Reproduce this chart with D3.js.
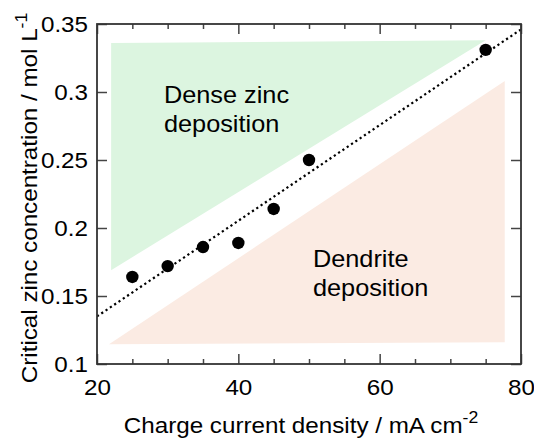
<!DOCTYPE html>
<html>
<head>
<meta charset="utf-8">
<script src="https://cdn.jsdelivr.net/npm/d3@7"></script>
<style>
  body { margin: 0; background: #fff; }
  text { font-family: "Liberation Sans", Arial, sans-serif; fill: #000; }
</style>
</head>
<body>
<div id="chart"></div>
<script>
// measured points
const currentDensity = [25, 30, 35, 40, 45, 50, 75]
const criticalConc = [0.164, 0.172, 0.186, 0.189, 0.214, 0.250, 0.331]

// dotted fit line end points
const fitX = [20, 80]
const fitY = [0.135, 0.346]

// shaded regions (x, y in data units)
const denseX = [22, 75, 22]
const denseY = [0.336, 0.338, 0.169]
const dendriteX = [21.7, 77.7, 77.7]
const dendriteY = [0.1145, 0.116, 0.308]

const xMajorTicks = [20, 40, 60, 80]
const xMinorTicks = [25, 30, 35, 45, 50, 55, 65, 70, 75]
const yTicks = [0.1, 0.15, 0.2, 0.25, 0.3, 0.35]

const margin = { top: 24, left: 97, right: 13, bottom: 75 }
const width = 534 - margin.left - margin.right
const height = 439 - margin.top - margin.bottom
const stretch = 1.1

const svg = d3
  .select('#chart')
  .append('svg')
  .attr('width', 534)
  .attr('height', 439)
  .append('g')
  .attr('transform', `translate(${margin.left},${margin.top})`)

const xScale = d3.scaleLinear().domain([20, 80]).range([0, width])
const yScale = d3.scaleLinear().domain([0.1, 0.35]).range([height, 0])

const toPoints = (xs, ys) => xs.map((x, i) => [xScale(x), yScale(ys[i])])

svg.append('polygon')
  .attr('points', toPoints(denseX, denseY).join(' '))
  .attr('fill', '#dcf5e0')

svg.append('polygon')
  .attr('points', toPoints(dendriteX, dendriteY).join(' '))
  .attr('fill', '#fbebe3')

svg.append('clipPath').attr('id', 'plot-clip')
  .append('rect').attr('width', width).attr('height', height)

svg.append('path')
  .datum(fitX.map((x, i) => [x, fitY[i]]))
  .attr('clip-path', 'url(#plot-clip)')
  .attr('d', d3.line().x(d => xScale(d[0])).y(d => yScale(d[1])))
  .attr('fill', 'none')
  .attr('stroke', '#000')
  .attr('stroke-width', 2.2)
  .attr('stroke-dasharray', '2.2 3')

svg.selectAll('.pt')
  .data(currentDensity)
  .enter()
  .append('circle')
  .attr('class', 'pt')
  .attr('cx', d => xScale(d))
  .attr('cy', (d, i) => yScale(criticalConc[i]))
  .attr('r', 6.2)
  .attr('fill', '#000')

// axes: ticks point inwards on all four sides
function styleAxis(g) {
  g.select('.domain').remove()
  g.selectAll('.tick line').attr('stroke', '#444').attr('stroke-width', 1.5)
}

const fmt = d3.format('~g')

svg.append('g')
  .attr('transform', `translate(0,${height})`)
  .call(d3.axisBottom(xScale).tickValues(xMinorTicks).tickSize(-5).tickFormat(''))
  .call(styleAxis)
svg.append('g')
  .attr('transform', `translate(0,${height})`)
  .call(d3.axisBottom(xScale).tickValues(xMajorTicks).tickSize(-10).tickPadding(0).tickFormat(fmt))
  .call(styleAxis)
  .call(g => g.selectAll('.tick text')
    .attr('y', 31).attr('dy', 0)
    .attr('transform', `scale(${stretch},1)`)
    .style('font-size', '22px'))

svg.append('g')
  .call(d3.axisTop(xScale).tickValues(xMinorTicks).tickSize(-5).tickFormat(''))
  .call(styleAxis)
svg.append('g')
  .call(d3.axisTop(xScale).tickValues(xMajorTicks).tickSize(-10).tickFormat(''))
  .call(styleAxis)

svg.append('g')
  .call(d3.axisLeft(yScale).tickValues(yTicks).tickSize(-10).tickPadding(0).tickFormat(fmt))
  .call(styleAxis)
  .call(g => g.selectAll('.tick text')
    .attr('x', -9 / stretch).attr('dy', '0.36em')
    .attr('transform', `scale(${stretch},1)`)
    .style('font-size', '22px'))

svg.append('g')
  .attr('transform', `translate(${width},0)`)
  .call(d3.axisRight(yScale).tickValues(yTicks).tickSize(-10).tickFormat(''))
  .call(styleAxis)

// frame
svg.append('rect')
  .attr('width', width)
  .attr('height', height)
  .attr('fill', 'none')
  .attr('stroke', '#333')
  .attr('stroke-width', 1.8)

// region labels
function label(x, y, lines) {
  const t = svg.append('text')
    .attr('transform', `translate(${x},${y}) scale(${stretch},1)`)
    .style('font-size', '23px')
  lines.forEach((s, i) => {
    t.append('tspan').attr('x', 0).attr('y', i * 29).text(s)
  })
}
label(164 - margin.left, 103 - margin.top, ['Dense zinc', 'deposition'])
label(313 - margin.left, 267 - margin.top, ['Dendrite', 'deposition'])

// axis titles
const xTitle = svg.append('text')
  .attr('transform', `translate(${width / 2 - 8},${433 - margin.top}) scale(${stretch},1)`)
  .attr('text-anchor', 'middle')
  .style('font-size', '22px')
xTitle.append('tspan').text('Charge current density / mA cm')
xTitle.append('tspan').attr('dy', -10).style('font-size', '16px').text('-2')

const yTitle = svg.append('text')
  .attr('transform', `translate(${37 - margin.left},${198 - margin.top}) rotate(-90) scale(${stretch},1)`)
  .attr('text-anchor', 'middle')
  .style('font-size', '22px')
yTitle.append('tspan').text('Critical zinc concentration / mol L')
yTitle.append('tspan').attr('dy', -10).style('font-size', '16px').text('-1')
</script>
</body>
</html>
